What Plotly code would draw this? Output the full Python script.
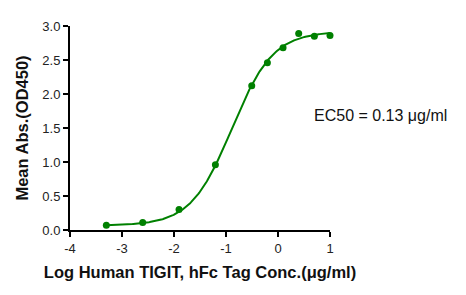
import numpy as np
import plotly.graph_objects as go

# Data (log10 concentration in µg/ml, mean absorbance OD450)
log_conc = [-3.301, -2.602, -1.903, -1.204, -0.505, -0.204, 0.097, 0.398, 0.699, 1.0]
mean_abs = [0.07, 0.11, 0.30, 0.96, 2.12, 2.46, 2.68, 2.89, 2.85, 2.86]

# 4PL fit parameters (EC50 = 0.13 µg/ml)
fit_bottom = 0.065
fit_top = 2.92
fit_log_ec50 = np.log10(0.13)
fit_hill = 1.1

x_ticks = [-4, -3, -2, -1, 0, 1]
y_ticks = [0.0, 0.5, 1.0, 1.5, 2.0, 2.5, 3.0]

green = "rgb(0,128,0)"

xf = np.linspace(min(log_conc), max(log_conc), 300)
yf = fit_bottom + (fit_top - fit_bottom) / (1 + 10 ** ((fit_log_ec50 - xf) * fit_hill))

fig = go.Figure()
fig.add_trace(go.Scatter(x=xf, y=yf, mode="lines",
                         line=dict(color=green, width=2), hoverinfo="skip",
                         showlegend=False, cliponaxis=False))
fig.add_trace(go.Scatter(x=log_conc, y=mean_abs, mode="markers",
                         marker=dict(color=green, size=7), showlegend=False,
                         cliponaxis=False))

axis_font = dict(family="Liberation Sans, Arial, sans-serif", size=13, color="#222")
title_font = dict(family="Liberation Sans, Arial, sans-serif", size=16.5, color="#111")

fig.update_layout(
    width=466, height=295,
    margin=dict(l=70, r=136, t=26, b=65),
    paper_bgcolor="white", plot_bgcolor="white",
    font=axis_font,
    xaxis=dict(range=[-4, 1], tickvals=x_ticks, ticktext=[str(v) for v in x_ticks],
               showgrid=False, zeroline=False, showline=True, linecolor="black",
               linewidth=2, ticks="outside", ticklen=5, tickwidth=2, tickcolor="black",
               tickfont=axis_font,
               title=dict(text="<b>Log Human TIGIT, hFc Tag Conc.(μg/ml)</b>",
                          font=title_font, standoff=12)),
    yaxis=dict(range=[0, 3], tickvals=y_ticks, ticktext=[f"{v:.1f}" for v in y_ticks],
               showgrid=False, zeroline=False, showline=True, linecolor="black",
               linewidth=2, ticks="outside", ticklen=5, tickwidth=2, tickcolor="black",
               tickfont=axis_font,
               title=dict(text="<b>Mean Abs.(OD450)</b>", font=title_font, standoff=10)),
    annotations=[dict(text="EC50 = 0.13 μg/ml", xref="paper", yref="paper",
                      x=0.93, y=0.56, xanchor="left", yanchor="middle", showarrow=False,
                      font=dict(family="Liberation Sans, Arial, sans-serif", size=16, color="#111"))],
)

fig.write_html("out.html")
